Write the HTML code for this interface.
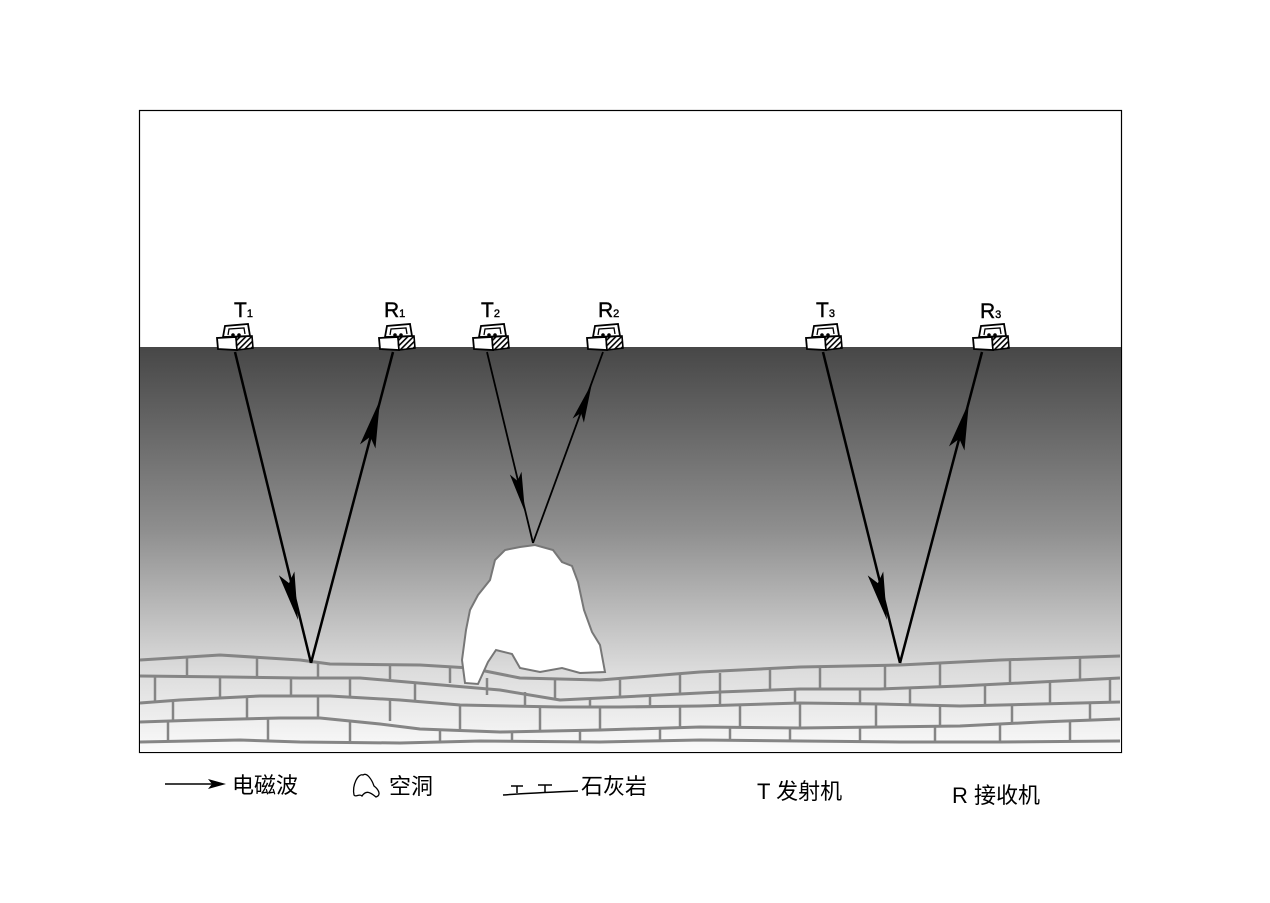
<!DOCTYPE html>
<html><head><meta charset="utf-8"><style>
html,body{margin:0;padding:0;background:#fff;}
svg text{font-family:"Liberation Sans","Noto Sans CJK SC",sans-serif;}
</style></head><body>
<svg width="1270" height="898" viewBox="0 0 1270 898" xmlns="http://www.w3.org/2000/svg">
<defs>
<linearGradient id="g" x1="0" y1="0" x2="0" y2="1">
<stop offset="0" stop-color="#474747"/>
<stop offset="0.45" stop-color="#8e8e8e"/>
<stop offset="0.8" stop-color="#dcdcdc"/>
<stop offset="1" stop-color="#fafafa"/>
</linearGradient>
<pattern id="h" width="4" height="4" patternUnits="userSpaceOnUse" patternTransform="rotate(45)"><rect width="4" height="4" fill="#fff"/><rect width="1.6" height="4" fill="#000"/></pattern>
<g id="dev">
<path d="M-13,-14 L-11,-25 L12,-27 L14,-15 Z" fill="#fff" stroke="#000" stroke-width="1.8"/>
<path d="M-8,-16 L-7,-22 L8,-23 L9,-17" fill="none" stroke="#000" stroke-width="1.3"/>
<circle cx="-3" cy="-16" r="1.8"/><circle cx="3" cy="-16" r="1.8"/>
<path d="M-18,-2 L-19,-13 L0,-14 L1,-1 Z" fill="#fff" stroke="#000" stroke-width="1.8"/>
<path d="M1,-1 L0,-14 L16,-15 L17,-3 Z" fill="url(#h)" stroke="#000" stroke-width="1.6"/>
</g>
</defs>
<rect x="139.5" y="110.5" width="982" height="642" fill="#fff" stroke="#000" stroke-width="1.2"/>
<rect x="140" y="347" width="981" height="405" fill="url(#g)"/>
<g fill="none" stroke="#858585" stroke-width="3" stroke-linejoin="round">
<polyline points="140,660 220,655 300,660 330,664 420,665 470,668 520,678 600,680 700,672 800,667 900,665 1000,660 1120,656"/>
<polyline points="140,676 230,677 300,678 360,678 430,684 500,690 560,700 640,696 720,692 800,689 880,689 960,686 1040,682 1120,678"/>
<polyline points="140,703 180,700 260,696 330,696 400,700 460,705 560,707 620,707 700,706 800,703 880,704 960,706 1040,704 1120,702"/>
<polyline points="140,722 200,720 280,718 320,718 380,724 420,729 500,732 600,730 700,727 800,728 880,727 960,726 1040,722 1120,719"/>
<polyline points="140,742 240,740 300,742 400,743 480,741 600,742 700,740 800,741 900,742 1000,742 1120,741"/>
</g>
<g stroke="#858585" stroke-width="2.5">
<path d="M187,657v19 M257,656v20 M318,663v15 M390,665v14 M450,667v16 M487,678v17 M555,679v20 M620,680v17 M680,674v19 M720,673v19 M770,670v19 M820,668v20 M885,666v23 M940,663v24 M1010,660v23 M1080,657v22"/>
<path d="M155,677v26 M220,677v20 M291,678v19 M350,678v18 M415,684v18 M525,692v15 M590,698v9 M650,696v11 M720,692v14 M795,689v14 M860,689v15 M910,688v17 M985,686v19 M1050,682v21 M1110,678v24"/>
<path d="M173,702v18 M247,697v21 M318,696v22 M390,699v22 M460,705v24 M540,707v24 M600,707v23 M680,706v22 M740,706v22 M800,703v25 M876,704v23 M940,706v20 M1012,705v18 M1090,703v17"/>
<path d="M168,721v21 M268,719v21 M350,721v21 M440,730v12 M512,732v10 M580,731v11 M660,729v12 M730,727v13 M790,728v13 M860,727v15 M935,727v15 M1000,725v17 M1070,721v21"/>
</g>
<path d="M535,545 L520,547 L505,550 L495,560 L490,580 L478,595 L470,610 L466,630 L462,660 L465,683 L478,684 L488,662 L496,650 L512,654 L520,668 L540,672 L562,668 L580,673 L605,672 L600,645 L592,632 L584,610 L578,582 L572,566 L562,562 L553,550 Z" fill="#fff" stroke="#777" stroke-width="2"/>
<g stroke="#000" stroke-width="2.5" fill="none">
<line x1="235" y1="352" x2="311" y2="663"/><line x1="311" y1="663" x2="393" y2="352"/>
<line x1="487" y1="352" x2="533" y2="543" stroke-width="1.8"/><line x1="533" y1="543" x2="603" y2="352" stroke-width="1.8"/>
<line x1="823" y1="352" x2="900" y2="663"/><line x1="900" y1="663" x2="982" y2="352"/>
</g>
<g fill="#000">
<polygon points="0,0 -48,-8 -38,0 -48,8" transform="translate(298,620) rotate(76.3)"/>
<polygon points="0,0 -48,-8 -38,0 -48,8" transform="translate(380,400) rotate(-75.2)"/>
<polygon points="0,0 -40,-6 -32,0 -40,6" transform="translate(525,512) rotate(76.5)"/>
<polygon points="0,0 -40,-6 -32,0 -40,6" transform="translate(592,383) rotate(-69.9)"/>
<polygon points="0,0 -48,-8 -38,0 -48,8" transform="translate(887,620) rotate(76.1)"/>
<polygon points="0,0 -48,-8 -38,0 -48,8" transform="translate(969,402) rotate(-75.2)"/>
</g>
<use href="#dev" x="236" y="351"/><use href="#dev" x="398" y="351"/><use href="#dev" x="492" y="351"/>
<use href="#dev" x="606" y="351"/><use href="#dev" x="825" y="351"/><use href="#dev" x="992" y="351"/>
<g font-size="21" fill="#000" stroke="#000" stroke-width="0.4">
<text x="234" y="317">T<tspan font-size="11">1</tspan></text>
<text x="384" y="317">R<tspan font-size="11">1</tspan></text>
<text x="481" y="317">T<tspan font-size="11">2</tspan></text>
<text x="598" y="317">R<tspan font-size="11">2</tspan></text>
<text x="816" y="317">T<tspan font-size="11">3</tspan></text>
<text x="980" y="318">R<tspan font-size="11">3</tspan></text>
</g>
<line x1="165" y1="784" x2="215" y2="784" stroke="#000" stroke-width="1.5"/>
<polygon points="226,784 208,779 212,784 208,789" fill="#000"/>
<path d="M354,795 C352,785 358,773 363,775 C367,772 372,780 374,786 C378,789 382,795 376,797 C370,792 366,790 362,796 C359,793 356,798 354,795 Z" fill="none" stroke="#000" stroke-width="1.3"/>
<path d="M503,795 C530,793 555,792 578,791 M511,786h12 M517,786v7 M538,785h14 M545,785v7" stroke="#000" stroke-width="1.5" fill="none"/>
<g font-size="22" fill="#000" style="font-family:'Liberation Sans','Noto Serif CJK SC',serif">
<text x="232" y="793">电磁波</text>
<text x="389" y="794">空洞</text>
<text x="581" y="794">石灰岩</text>
<text x="757" y="799">T 发射机</text>
<text x="952" y="803">R 接收机</text>
</g>
</svg>
</body></html>
